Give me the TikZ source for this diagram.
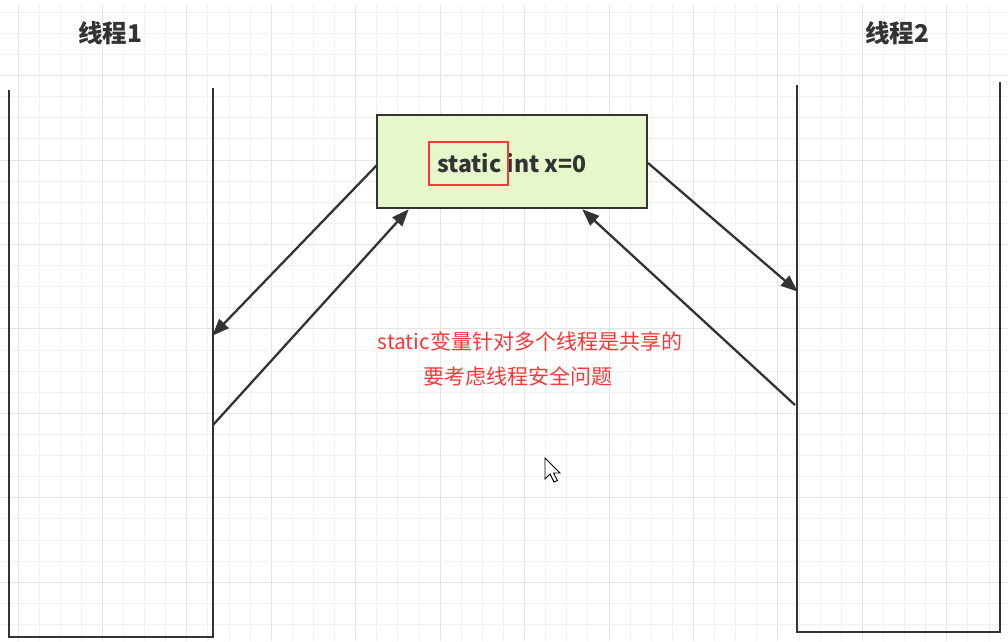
\documentclass[tikz,border=0pt]{standalone}
\usepackage{fontspec}
\newfontfamily\cjk{Noto Sans CJK SC}
\usetikzlibrary{arrows.meta}
\definecolor{ink}{HTML}{333333}
\definecolor{gridminor}{HTML}{F0F0F0}
\definecolor{gridmajor}{HTML}{E4E4E4}
\definecolor{boxfill}{HTML}{E6F8CA}
\definecolor{redtxt}{HTML}{FF3636}
\tikzset{
  container/.style={draw=ink, line width=2.5pt},
  arr/.style={draw=ink, line width=2.3pt, -{Triangle[length=17pt,width=13pt]}, shorten >=-1pt},
  title/.style={font=\cjk\bfseries\fontsize{24.5}{28}\selectfont, text=ink, inner sep=0pt},
  note/.style={font=\cjk\fontsize{21}{25}\selectfont, text=redtxt, inner sep=0pt},
}
\begin{document}
\begin{tikzpicture}[x=1pt,y=-1pt]
\useasboundingbox (0,0) rectangle (1008,641);
\fill[white] (0,0) rectangle (1008,641);
% grid
\foreach \i in {0,...,47} {
  \pgfmathsetmacro{\xx}{18+21.11*\i}
  \pgfmathtruncatemacro{\m}{mod(\i,4)}
  \ifnum\m=0
    \draw[gridmajor, line width=1pt] (\xx,5) -- (\xx,641);
  \else
    \draw[gridminor, line width=1pt] (\xx,5) -- (\xx,641);
  \fi
}
\foreach \j in {0,...,30} {
  \pgfmathsetmacro{\yy}{12.25+21.11*\j}
  \pgfmathtruncatemacro{\m}{mod(\j,4)}
  \ifnum\m=3
    \draw[gridmajor, line width=1pt] (0,\yy) -- (1008,\yy);
  \else
    \draw[gridminor, line width=1pt] (0,\yy) -- (1008,\yy);
  \fi
}
% titles
\node[title] (t1) at (110,33) {线程1};
\node[title] (t2) at (897,33) {线程2};
% containers
\draw[container] (9,90) -- (9,637) -- (213,637) -- (213,88);
\draw[container] (797,85) -- (797,632) -- (1000,632) -- (1000,82);
% shared variable box
\node[draw=ink, line width=2.3pt, fill=boxfill, minimum width=270pt, minimum height=93pt, inner sep=0pt]
  (var) at (512,161.5) {};
\node[font=\cjk\bfseries\fontsize{23}{27}\selectfont, text=ink, inner sep=0pt] (vtext) at (512,163) {static int x=0};
\node[draw=redtxt, line width=2pt, minimum width=79pt, minimum height=43pt, inner sep=0pt] (hl) at (468.5,163.5) {};
% connection points
\coordinate (boxL) at (377,165);
\coordinate (boxR) at (648,163);
\coordinate (boxBL) at (408,210);
\coordinate (boxBR) at (583,210);
\coordinate (t1in) at (213,335);
\coordinate (t1out) at (213,425);
\coordinate (t2in) at (797,291);
\coordinate (t2out) at (795,405);
% arrows
\draw[arr] (boxL) -- (t1in);
\draw[arr] (t1out) -- (boxBL);
\draw[arr] (boxR) -- (t2in);
\draw[arr] (t2out) -- (boxBR);
% note
\node[note] (n1) at (530,341) {static变量针对多个线程是共享的};
\node[note] (n2) at (518,376) {要考虑线程安全问题};
% mouse cursor
\draw[black, fill=white, line width=0.9pt, line join=miter]
  (545,458) -- (545,479) -- (550,474) -- (554,482) -- (557.5,480.5) -- (553.5,473) -- (560,473) -- cycle;
\end{tikzpicture}
\end{document}
